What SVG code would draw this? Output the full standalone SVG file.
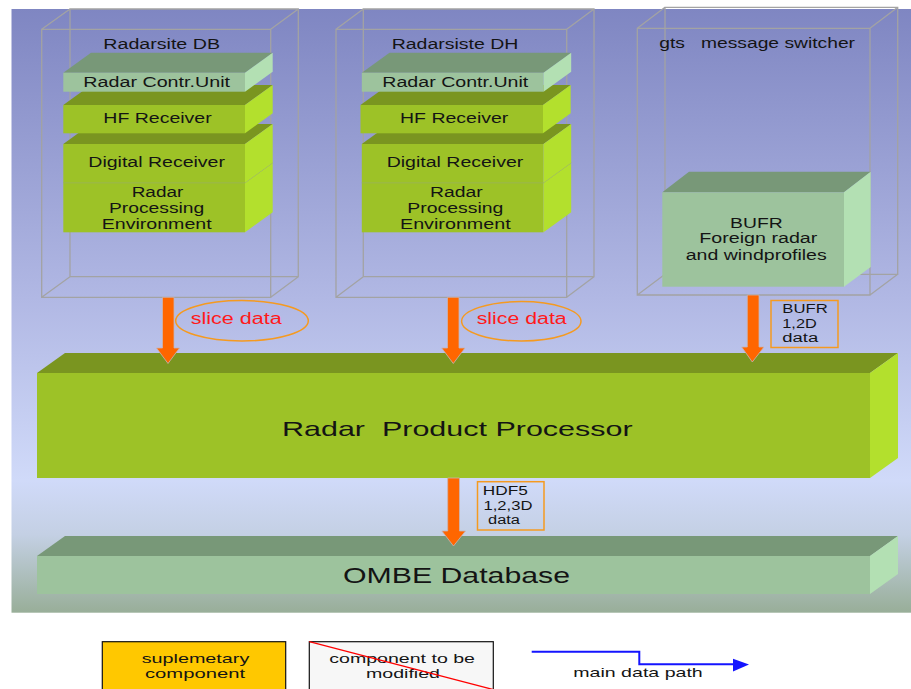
<svg xmlns="http://www.w3.org/2000/svg" width="911" height="689" viewBox="0 0 911 689">
<defs>
<linearGradient id="bg" x1="0" y1="9" x2="0" y2="613" gradientUnits="userSpaceOnUse">
<stop offset="0" stop-color="#7f86c2"/>
<stop offset="0.48" stop-color="#b1b8e4"/>
<stop offset="0.78" stop-color="#d0daf9"/>
<stop offset="0.87" stop-color="#c4d0e4"/>
<stop offset="1" stop-color="#98ae98"/>
</linearGradient>
<style>
.t{font-family:"Liberation Sans",Arial,sans-serif;fill:#141414}
.s14{font-size:14px}
.wire{fill:none;stroke:#a3a3a3;stroke-width:1.3}
.gtop{fill:#7a9520}.gfront{fill:#9dc227}.gside{fill:#b3e02d}
.ntop{fill:#789878}.nfront{fill:#9dc39d}.nside{fill:#b3e0b3}
.sep{stroke:#98a878;stroke-width:1;fill:none}
.arrow{fill:#ff6600;stroke:#c8b4b4;stroke-width:0.8}
.lbl{fill:none;stroke:#f59a20;stroke-width:1.5}
.red{fill:#ff1a1a}
</style>
</defs>
<rect x="0" y="0" width="911" height="689" fill="#ffffff"/>
<rect x="11.5" y="9" width="899.5" height="603.7" fill="url(#bg)"/>

<g id="radarsite-db">
<path class="wire" d="M41.7,29.3H270.7V297.3H41.7Z M70,9H298.3V276.7H70Z M41.7,29.3L70,9 M270.7,29.3L298.3,9 M270.7,297.3L298.3,276.7 M41.7,297.3L70,276.7"/>
<text class="t s14" x="103.3" y="49" textLength="116.7" lengthAdjust="spacingAndGlyphs">Radarsite DB</text>
</g>
<g id="db-rpe">
<rect class="gfront" x="63.3" y="182.7" width="181.7" height="49.6"/>
<polygon class="gside" points="245,182.7 272.7,162.7 272.7,212.3 245,232.3"/>
<path class="sep" d="M63.3,182.7H245L272.7,162.7"/>
<text class="t s14" x="131.7" y="196.5" textLength="51.6" lengthAdjust="spacingAndGlyphs">Radar</text>
<text class="t s14" x="109" y="213" textLength="95.3" lengthAdjust="spacingAndGlyphs">Processing</text>
<text class="t s14" x="101.7" y="229" textLength="110" lengthAdjust="spacingAndGlyphs">Environment</text>
</g>
<g id="db-digital">
<polygon class="gtop" points="63.3,144 245,144 272.7,124 91,124"/>
<rect class="gfront" x="63.3" y="144" width="181.7" height="38.7"/>
<polygon class="gside" points="245,144 272.7,124 272.7,162.7 245,182.7"/>
<text class="t s14" x="88.3" y="166.5" textLength="136.7" lengthAdjust="spacingAndGlyphs">Digital Receiver</text>
</g>
<g id="db-hf">
<polygon class="gtop" points="63.3,105 245,105 272.7,85 91,85"/>
<rect class="gfront" x="63.3" y="105" width="181.7" height="28.3"/>
<polygon class="gside" points="245,105 272.7,85 272.7,113.3 245,133.3"/>
<text class="t s14" x="103.3" y="122.5" textLength="108.4" lengthAdjust="spacingAndGlyphs">HF Receiver</text>
</g>
<g id="db-rcu">
<polygon class="ntop" points="63.3,72.7 245,72.7 272.7,52.7 91,52.7"/>
<rect class="nfront" x="63.3" y="72.7" width="181.7" height="19"/>
<polygon class="nside" points="245,72.7 272.7,52.7 272.7,71.7 245,91.7"/>
<text class="t s14" x="83.3" y="87" textLength="146.7" lengthAdjust="spacingAndGlyphs">Radar Contr.Unit</text>
</g>

<g id="radarsite-dh">
<path class="wire" d="M336,29.3H566.7V297.3H336Z M363.3,9H594V276.7H363.3Z M336,29.3L363.3,9 M566.7,29.3L594,9 M566.7,297.3L594,276.7 M336,297.3L363.3,276.7"/>
<text class="t s14" x="391.7" y="49" textLength="126.6" lengthAdjust="spacingAndGlyphs">Radarsiste DH</text>
</g>
<g id="dh-rpe">
<rect class="gfront" x="361.8" y="182.7" width="181.7" height="49.6"/>
<polygon class="gside" points="543.5,182.7 571.2,162.7 571.2,212.3 543.5,232.3"/>
<path class="sep" d="M361.8,182.7H543.5L571.2,162.7"/>
<text class="t s14" x="430" y="196.5" textLength="52.7" lengthAdjust="spacingAndGlyphs">Radar</text>
<text class="t s14" x="407.3" y="213" textLength="96" lengthAdjust="spacingAndGlyphs">Processing</text>
<text class="t s14" x="400" y="229" textLength="110.7" lengthAdjust="spacingAndGlyphs">Environment</text>
</g>
<g id="dh-digital">
<polygon class="gtop" points="361.8,144 543.5,144 571.2,124 389.5,124"/>
<rect class="gfront" x="361.8" y="144" width="181.7" height="38.7"/>
<polygon class="gside" points="543.5,144 571.2,124 571.2,162.7 543.5,182.7"/>
<text class="t s14" x="386.7" y="166.5" textLength="136.6" lengthAdjust="spacingAndGlyphs">Digital Receiver</text>
</g>
<g id="dh-hf">
<polygon class="gtop" points="360.5,105 543,105 570.7,85 388.2,85"/>
<rect class="gfront" x="360.5" y="105" width="182.5" height="28.3"/>
<polygon class="gside" points="543,105 570.7,85 570.7,113.3 543,133.3"/>
<text class="t s14" x="400" y="122.5" textLength="108.3" lengthAdjust="spacingAndGlyphs">HF Receiver</text>
</g>
<g id="dh-rcu">
<polygon class="ntop" points="361.8,72.7 543.5,72.7 571.2,52.7 389.5,52.7"/>
<rect class="nfront" x="361.8" y="72.7" width="181.7" height="19"/>
<polygon class="nside" points="543.5,72.7 571.2,52.7 571.2,71.7 543.5,91.7"/>
<text class="t s14" x="382.3" y="87" textLength="146" lengthAdjust="spacingAndGlyphs">Radar Contr.Unit</text>
</g>

<g id="gts-switcher">
<path class="wire" d="M637.3,28.3H870V295H637.3Z M665,7.3H897.7V274.3H665Z M637.3,28.3L665,7.3 M870,28.3L897.7,7.3 M870,295L897.7,274.3 M637.3,295L665,274.3"/>
<text class="t s14" x="659.3" y="47.7" textLength="195.7" lengthAdjust="spacingAndGlyphs" xml:space="preserve">gts   message switcher</text>
</g>
<g id="bufr-foreign">
<polygon class="ntop" points="662.3,192.3 844,192.3 870.7,171.7 689,171.7"/>
<rect class="nfront" x="662.3" y="192.3" width="181.7" height="94.4"/>
<polygon class="nside" points="844,192.3 870.7,171.7 870.7,267 844,286.7"/>
<text class="t s14" x="730" y="227.7" textLength="52.7" lengthAdjust="spacingAndGlyphs">BUFR</text>
<text class="t s14" x="699.3" y="243.3" textLength="118" lengthAdjust="spacingAndGlyphs">Foreign radar</text>
<text class="t s14" x="685.7" y="260" textLength="141" lengthAdjust="spacingAndGlyphs">and windprofiles</text>
</g>

<g id="rpp">
<polygon class="gtop" points="37,373 870,373 898,353 65,353"/>
<rect class="gfront" x="37" y="373" width="833" height="105"/>
<polygon class="gside" points="870,373 898,353 898,458 870,478"/>
<text class="t" font-size="21" x="282" y="436" textLength="350.6" lengthAdjust="spacingAndGlyphs" xml:space="preserve">Radar  Product Processor</text>
</g>

<g id="ombe">
<polygon class="ntop" points="37,556 870,556 898,536 65,536"/>
<rect class="nfront" x="37" y="556" width="833" height="38"/>
<polygon class="nside" points="870,556 898,536 898,574 870,594"/>
<text class="t" font-size="22" x="343" y="583" textLength="227" lengthAdjust="spacingAndGlyphs">OMBE Database</text>
</g>

<g id="connectors">
<polygon class="arrow" points="162.5,297.3 174,297.3 174,348 179.5,348 168,363.5 156.5,348 162.5,348"/>
<polygon class="arrow" points="447.5,297.3 459,297.3 459,348 465,348 453.3,363.5 441.7,348 447.5,348"/>
<polygon class="arrow" points="747.3,295 759,295 759,347 764,347 752.3,362 741.7,347 747.3,347"/>
<polygon class="arrow" points="447.7,478 459.5,478 459.5,531 465.5,531 453.5,546 441.9,531 447.7,531"/>
</g>

<g id="label-slice-db">
<ellipse class="lbl" cx="242" cy="320.8" rx="66.3" ry="20.2"/>
<text class="t red" font-size="16" x="190.7" y="324.3" textLength="91" lengthAdjust="spacingAndGlyphs">slice data</text>
</g>
<g id="label-slice-dh">
<ellipse class="lbl" cx="521.3" cy="321.3" rx="59.7" ry="19.7"/>
<text class="t red" font-size="16" x="476.7" y="324.3" textLength="90" lengthAdjust="spacingAndGlyphs">slice data</text>
</g>
<g id="label-bufr">
<rect class="lbl" x="771" y="300.5" width="67" height="47"/>
<text class="t" font-size="12.5" x="782.3" y="313.3" textLength="45.4" lengthAdjust="spacingAndGlyphs">BUFR</text>
<text class="t" font-size="12.5" x="782.3" y="328.3" textLength="34.4" lengthAdjust="spacingAndGlyphs">1,2D</text>
<text class="t" font-size="12.5" x="782.3" y="341.7" textLength="36" lengthAdjust="spacingAndGlyphs">data</text>
</g>
<g id="label-hdf5">
<rect class="lbl" x="477.5" y="481.7" width="66.5" height="48.3"/>
<text class="t" font-size="12.5" x="482.8" y="495" textLength="45" lengthAdjust="spacingAndGlyphs">HDF5</text>
<text class="t" font-size="12.5" x="483.5" y="510" textLength="49" lengthAdjust="spacingAndGlyphs">1,2,3D</text>
<text class="t" font-size="12.5" x="488" y="524.3" textLength="32" lengthAdjust="spacingAndGlyphs">data</text>
</g>

<g id="legend-supplementary">
<rect x="102.3" y="641.7" width="183.4" height="50" fill="#ffc800" stroke="#111" stroke-width="1.2"/>
<text class="t" font-size="13.5" x="141.7" y="662.8" textLength="107.6" lengthAdjust="spacingAndGlyphs">suplemetary</text>
<text class="t" font-size="13.5" x="145" y="678.3" textLength="100" lengthAdjust="spacingAndGlyphs">component</text>
</g>
<g id="legend-modified">
<rect x="309.3" y="641.7" width="184" height="50" fill="#f7f7f7" stroke="#111" stroke-width="1.2"/>
<text class="t" font-size="13.5" x="329.3" y="662.8" textLength="145.7" lengthAdjust="spacingAndGlyphs">component to be</text>
<text class="t" font-size="13.5" x="366" y="678.3" textLength="74" lengthAdjust="spacingAndGlyphs">modified</text>
<line x1="309.3" y1="641.7" x2="495" y2="690" stroke="#ff0000" stroke-width="1.3"/>
</g>
<g id="legend-path">
<path d="M531.7,651.7H639.3V664.3H735" fill="none" stroke="#1414ff" stroke-width="2"/>
<polygon points="733,658.8 749,664.5 733,671.5" fill="#1414ff"/>
<text class="t" font-size="13.5" x="573.3" y="677.3" textLength="129.4" lengthAdjust="spacingAndGlyphs">main data path</text>
</g>
</svg>
